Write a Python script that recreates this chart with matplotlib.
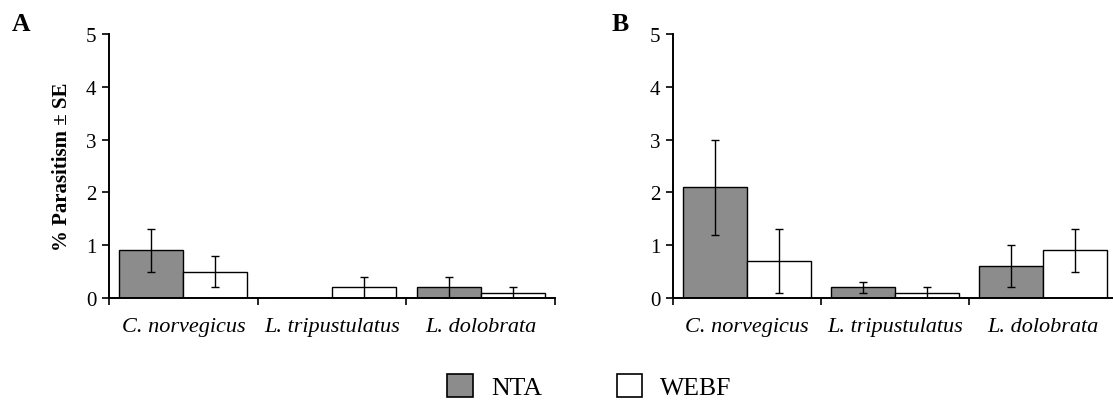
import matplotlib
matplotlib.use("Agg")
import matplotlib.pyplot as plt
from matplotlib.patches import Patch
import numpy as np

plt.rcParams['font.family'] = ['Liberation Serif', 'DejaVu Serif']

categories = ["C. norvegicus", "L. tripustulatus", "L. dolobrata"]
series = ["NTA", "WEBF"]

a_nta = [0.9, 0.0, 0.2]
a_nta_se = [0.4, 0.0, 0.2]
a_webf = [0.5, 0.2, 0.1]
a_webf_se = [0.3, 0.2, 0.1]

b_nta = [2.1, 0.2, 0.6]
b_nta_se = [0.9, 0.1, 0.4]
b_webf = [0.7, 0.1, 0.9]
b_webf_se = [0.6, 0.1, 0.4]

yticks = [0, 1, 2, 3, 4, 5]

W, H = 1113, 402
fig = plt.figure(figsize=(W / 100, H / 100), dpi=100)

gray = "#8c8c8c"
bw = 0.43


def draw(ax, nta, nta_se, webf, webf_se, ylabel=None):
    x = np.arange(len(categories))
    ekw = dict(ecolor="black", elinewidth=1.0, capsize=2.8, capthick=1.0)
    ax.bar(x - bw / 2, nta, bw, color=gray, edgecolor="black", linewidth=1.0,
           zorder=2)
    ax.bar(x + bw / 2, webf, bw, color="white", edgecolor="black", linewidth=1.0,
           zorder=2)
    for xi, v, e in zip(x - bw / 2, nta, nta_se):
        if e > 0:
            ax.errorbar(xi, v, yerr=e, fmt="none", zorder=3, **ekw)
    for xi, v, e in zip(x + bw / 2, webf, webf_se):
        if e > 0:
            ax.errorbar(xi, v, yerr=e, fmt="none", zorder=3, **ekw)
    ax.set_xlim(-0.5, len(categories) - 0.5)
    ax.set_ylim(0, 5)
    ax.set_yticks(yticks)
    ax.set_yticklabels([str(t) for t in yticks], fontsize=15)
    ax.set_xticks(x)
    ax.set_xticklabels(categories, fontsize=16, style="italic")
    ax.set_xticks(np.arange(len(categories) + 1) - 0.5, minor=True)
    ax.tick_params(axis="x", which="major", length=0, pad=14)
    ax.tick_params(axis="x", which="minor", length=5, width=1.2, direction="out")
    ax.tick_params(axis="y", length=5, width=1.2, direction="out", pad=4)
    for s in ["top", "right"]:
        ax.spines[s].set_visible(False)
    for s in ["left", "bottom"]:
        ax.spines[s].set_linewidth(1.4)
    ax.spines["bottom"].set_zorder(4)
    if ylabel:
        ax.set_ylabel(ylabel, fontsize=15, fontweight="bold", labelpad=10)


y0, y5 = 299, 35
axA = fig.add_axes([109 / W, (H - y0) / H, (555 - 109) / W, (y0 - y5) / H])
axB = fig.add_axes([673 / W, (H - y0) / H, (1117 - 673) / W, (y0 - y5) / H])

draw(axA, a_nta, a_nta_se, a_webf, a_webf_se, ylabel="% Parasitism ± SE")
draw(axB, b_nta, b_nta_se, b_webf, b_webf_se)

fig.text(12 / W, 1 - 13 / H, "A", fontsize=18.5, fontweight="bold", va="top", ha="left")
fig.text(612 / W, 1 - 13 / H, "B", fontsize=18.5, fontweight="bold", va="top", ha="left")

handles = [Patch(facecolor=gray, edgecolor="black", linewidth=1.2),
           Patch(facecolor="white", edgecolor="black", linewidth=1.2)]
fig.legend(handles, series, loc="center", bbox_to_anchor=(589.5 / W, (H - 387.5) / H),
           ncol=2, frameon=False, fontsize=18.5, handlelength=1.0, handleheight=1.0,
           handletextpad=0.7, columnspacing=2.9, borderpad=0, borderaxespad=0)

fig.savefig("out.png", dpi=100)
